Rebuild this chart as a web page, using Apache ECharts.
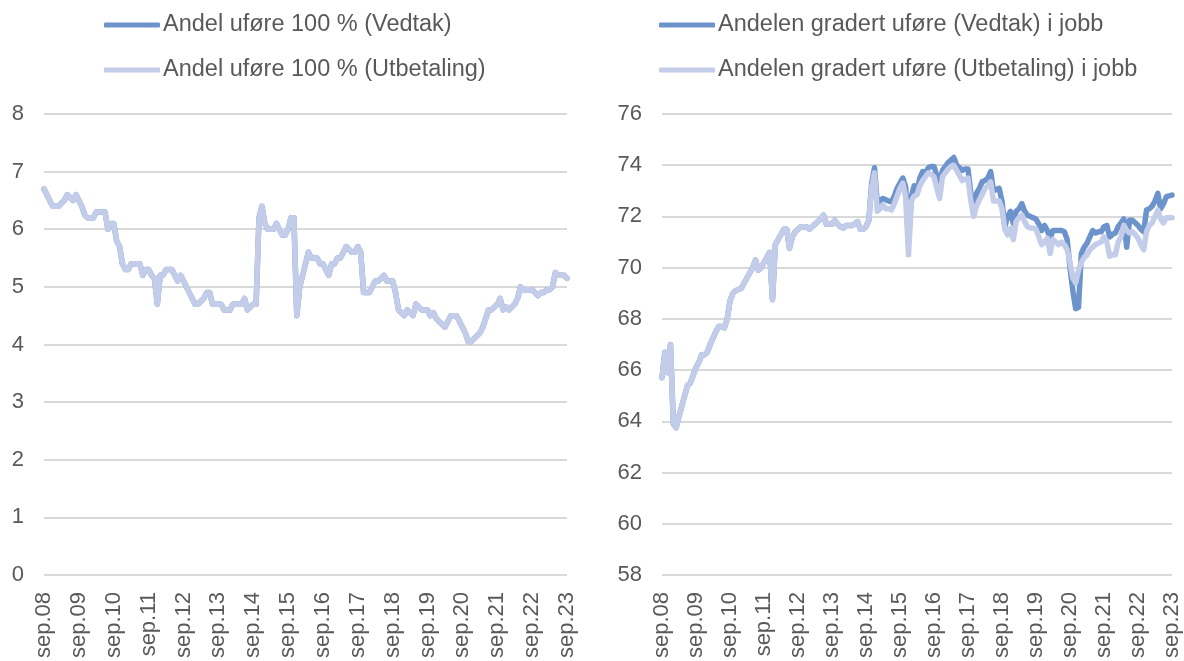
<!DOCTYPE html>
<html><head><meta charset="utf-8">
<script src="https://cdn.jsdelivr.net/npm/echarts@6/dist/echarts.min.js"></script>
<style>html,body{margin:0;padding:0;background:#fff}#c{width:1184px;height:661px}</style>
</head><body><div id="c"></div>
<script>
// Month names (Norwegian) used for category labels, sep.08 .. sep.23
const monthNames = ['jan','feb','mar','apr','mai','jun','jul','aug','sep','okt','nov','des'];
const startYear = 2008, startMonth = 8, monthCount = 181;

// Left chart: Andel uføre 100 %
const full100Vedtak = [
6.7,6.6,6.5,6.4,6.4,6.4,6.45,6.5,6.6,6.55,6.5,6.6,6.5,6.4,6.25,6.2,6.2,6.2,6.3,6.3,
6.3,6.3,6.0,6.1,6.1,5.8,5.7,5.4,5.3,5.3,5.4,5.4,5.4,5.4,5.2,5.3,5.3,5.2,5.15,4.7,
5.2,5.2,5.3,5.3,5.3,5.2,5.1,5.2,5.1,5.0,4.9,4.8,4.7,4.7,4.75,4.8,4.9,4.9,4.7,4.7,
4.7,4.7,4.6,4.6,4.6,4.7,4.7,4.7,4.7,4.8,4.6,4.65,4.7,4.7,6.2,6.4,6.1,6.0,6.0,6.0,
6.1,6.0,5.9,5.9,6.0,6.2,6.2,4.5,5.0,5.2,5.4,5.6,5.5,5.5,5.5,5.4,5.4,5.3,5.2,5.4,
5.4,5.5,5.5,5.6,5.7,5.65,5.6,5.6,5.7,5.6,4.9,4.9,4.9,5.0,5.1,5.1,5.15,5.2,5.1,5.1,
5.1,4.9,4.6,4.55,4.5,4.6,4.55,4.5,4.7,4.65,4.6,4.6,4.6,4.5,4.55,4.45,4.4,4.35,4.3,4.4,
4.5,4.5,4.5,4.4,4.3,4.2,4.05,4.05,4.1,4.15,4.2,4.3,4.45,4.6,4.6,4.65,4.7,4.8,4.6,4.65,
4.6,4.65,4.7,4.8,5.0,4.95,4.95,4.95,4.95,4.9,4.85,4.9,4.9,4.95,4.95,5.0,5.25,5.2,5.2,5.2,
5.15];
const full100Utbetaling = [
6.7,6.6,6.5,6.4,6.4,6.4,6.45,6.5,6.6,6.55,6.5,6.6,6.5,6.4,6.25,6.2,6.2,6.2,6.3,6.3,
6.3,6.3,6.0,6.1,6.1,5.8,5.7,5.4,5.3,5.3,5.4,5.4,5.4,5.4,5.2,5.3,5.3,5.2,5.15,4.7,
5.2,5.2,5.3,5.3,5.3,5.2,5.1,5.2,5.1,5.0,4.9,4.8,4.7,4.7,4.75,4.8,4.9,4.9,4.7,4.7,
4.7,4.7,4.6,4.6,4.6,4.7,4.7,4.7,4.7,4.8,4.6,4.65,4.7,4.7,6.2,6.4,6.1,6.0,6.0,6.0,
6.1,6.0,5.9,5.9,6.0,6.2,6.2,4.5,5.0,5.2,5.4,5.6,5.5,5.5,5.5,5.4,5.4,5.3,5.2,5.4,
5.4,5.5,5.5,5.6,5.7,5.65,5.6,5.6,5.7,5.6,4.9,4.9,4.9,5.0,5.1,5.1,5.15,5.2,5.1,5.1,
5.1,4.9,4.6,4.55,4.5,4.6,4.55,4.5,4.7,4.65,4.6,4.6,4.6,4.5,4.55,4.45,4.4,4.35,4.3,4.4,
4.5,4.5,4.5,4.4,4.3,4.2,4.05,4.05,4.1,4.15,4.2,4.3,4.45,4.6,4.6,4.65,4.7,4.8,4.6,4.65,
4.6,4.65,4.7,4.8,5.0,4.95,4.95,4.95,4.95,4.9,4.85,4.9,4.9,4.95,4.95,5.0,5.25,5.2,5.2,5.2,
5.15];

// Right chart: Andelen gradert uføre i jobb
const gradertVedtak = [
65.7,66.7,65.9,67.0,63.9,63.75,64.2,64.6,65.0,65.4,65.5,65.8,66.1,66.3,66.6,66.6,66.7,67.0,67.25,67.5,
67.7,67.7,67.65,68.0,68.7,69.0,69.1,69.15,69.2,69.4,69.6,69.8,70.0,70.3,69.9,70.0,70.2,70.4,70.6,68.75,
70.9,71.1,71.3,71.5,71.5,70.75,71.2,71.4,71.5,71.6,71.6,71.6,71.5,71.6,71.7,71.8,71.9,72.05,71.7,71.7,
71.7,71.85,71.7,71.6,71.55,71.65,71.65,71.65,71.7,71.8,71.5,71.5,71.6,71.85,73.3,73.9,72.5,72.64,72.7,72.65,
72.6,72.57,72.8,73.1,73.3,73.5,73.15,70.95,72.77,73.2,73.0,73.5,73.75,73.7,73.9,73.95,73.95,73.6,73.2,73.8,
73.95,74.1,74.2,74.3,74.0,73.9,73.8,73.85,73.85,72.9,72.05,72.9,73.1,73.35,73.4,73.5,73.75,73.0,73.05,73.1,
72.6,71.6,72.0,72.2,71.73,72.2,72.3,72.5,72.2,72.05,72.0,71.95,71.9,71.7,71.45,71.65,71.45,71.15,71.45,71.45,
71.45,71.45,71.4,71.1,70.0,69.1,68.4,68.45,70.55,70.8,70.95,71.2,71.45,71.35,71.4,71.4,71.6,71.65,71.2,71.3,
71.35,71.6,71.75,71.9,70.8,71.85,71.85,71.75,71.65,71.5,71.4,72.25,72.3,72.4,72.6,72.9,72.3,72.5,72.77,72.8,
72.83];
const gradertUtbetaling = [
65.7,66.7,65.9,67.0,63.9,63.75,64.2,64.6,65.0,65.4,65.5,65.8,66.1,66.3,66.6,66.6,66.7,67.0,67.25,67.5,
67.7,67.7,67.65,68.0,68.7,69.0,69.1,69.15,69.2,69.4,69.6,69.8,70.0,70.3,69.9,70.0,70.2,70.4,70.6,68.75,
70.9,71.1,71.3,71.5,71.5,70.75,71.2,71.4,71.5,71.6,71.6,71.6,71.5,71.6,71.7,71.8,71.9,72.05,71.7,71.7,
71.7,71.85,71.7,71.6,71.55,71.65,71.65,71.65,71.7,71.8,71.5,71.5,71.6,71.85,73.15,73.7,72.2,72.3,72.45,72.3,
72.3,72.25,72.5,72.8,73.1,73.3,72.77,70.5,72.6,72.8,72.85,73.2,73.4,73.55,73.7,73.65,73.55,73.1,72.7,73.55,
73.7,73.85,73.95,74.0,73.8,73.6,73.4,73.45,73.5,72.6,72.0,72.4,72.65,72.85,73.1,73.2,73.35,72.6,72.6,72.6,
72.3,71.5,71.27,71.53,71.1,71.8,71.95,72.05,71.8,71.6,71.55,71.55,71.5,71.2,70.9,71.0,71.15,70.55,71.1,71.0,
70.9,71.0,70.9,70.7,70.2,69.6,69.4,69.9,70.2,70.4,70.5,70.7,70.8,70.9,70.95,71.0,71.2,71.0,70.45,70.5,
70.5,71.0,71.2,71.65,71.45,71.35,71.4,71.3,71.15,70.9,70.7,71.4,71.65,71.75,72.0,72.25,71.9,71.75,71.95,71.95,
71.95];

const leftTicks = [0,1,2,3,4,5,6,7,8];
const rightTicks = [58,60,62,64,66,68,70,72,74,76];

const categories = [];
for (let k = 0; k < monthCount; k++) {
  const m = (startMonth + k) % 12;
  const y = startYear + Math.floor((startMonth + k) / 12);
  categories.push(monthNames[m] + '.' + String(y % 100).padStart(2, '0'));
}

const DARK = '#6c93cb', LIGHT = '#c3cdea', TXT = '#595959';
const FONT = '"Liberation Sans", Arial, sans-serif';

function xAxis(gi) {
  return {
    type: 'category', gridIndex: gi, data: categories, boundaryGap: false,
    axisLine: {show: false}, axisTick: {show: false},
    axisLabel: {interval: 11, rotate: 90, color: TXT, fontSize: 22, fontFamily: FONT, margin: 17}
  };
}
function yAxis(gi, ticks, margin) {
  return {
    type: 'value', gridIndex: gi, min: ticks[0], max: ticks[ticks.length - 1],
    interval: ticks[1] - ticks[0],
    axisLine: {show: false}, axisTick: {show: false},
    axisLabel: {color: TXT, fontSize: 22, fontFamily: FONT, margin: margin},
    splitLine: {lineStyle: {color: '#d9d9d9', width: 2}}
  };
}
function line(name, data, color, gi) {
  return {
    name: name, type: 'line', xAxisIndex: gi, yAxisIndex: gi, data: data,
    showSymbol: false, symbol: 'none', animation: false,
    lineStyle: {color: color, width: 5.5, join: 'round', cap: 'round'},
    itemStyle: {color: color}
  };
}
function legend(left, names) {
  return {
    left: left, top: 8, orient: 'vertical', data: names,
    icon: 'roundRect', itemWidth: 56, itemHeight: 5, itemGap: 21,
    textStyle: {color: TXT, fontSize: 23.5, fontFamily: FONT, padding: [0, 0, 0, -2]},
    selectedMode: false
  };
}

const chart = echarts.init(document.getElementById('c'), null, {renderer: 'canvas'});
chart.setOption({
  animation: false,
  backgroundColor: '#fff',
  legend: [
    legend(99, ['Andel uføre 100 % (Vedtak)', 'Andel uføre 100 % (Utbetaling)']),
    legend(654, ['Andelen gradert uføre (Vedtak) i jobb', 'Andelen gradert uføre (Utbetaling) i jobb'])
  ],
  grid: [
    {left: 44, right: 617, top: 114, bottom: 85},
    {left: 662, right: 12, top: 114, bottom: 85}
  ],
  xAxis: [xAxis(0), xAxis(1)],
  yAxis: [yAxis(0, leftTicks, 20), yAxis(1, rightTicks, 20)],
  series: [
    line('Andel uføre 100 % (Vedtak)', full100Vedtak, DARK, 0),
    line('Andel uføre 100 % (Utbetaling)', full100Utbetaling, LIGHT, 0),
    line('Andelen gradert uføre (Vedtak) i jobb', gradertVedtak, DARK, 1),
    line('Andelen gradert uføre (Utbetaling) i jobb', gradertUtbetaling, LIGHT, 1)
  ]
});
</script></body></html>
